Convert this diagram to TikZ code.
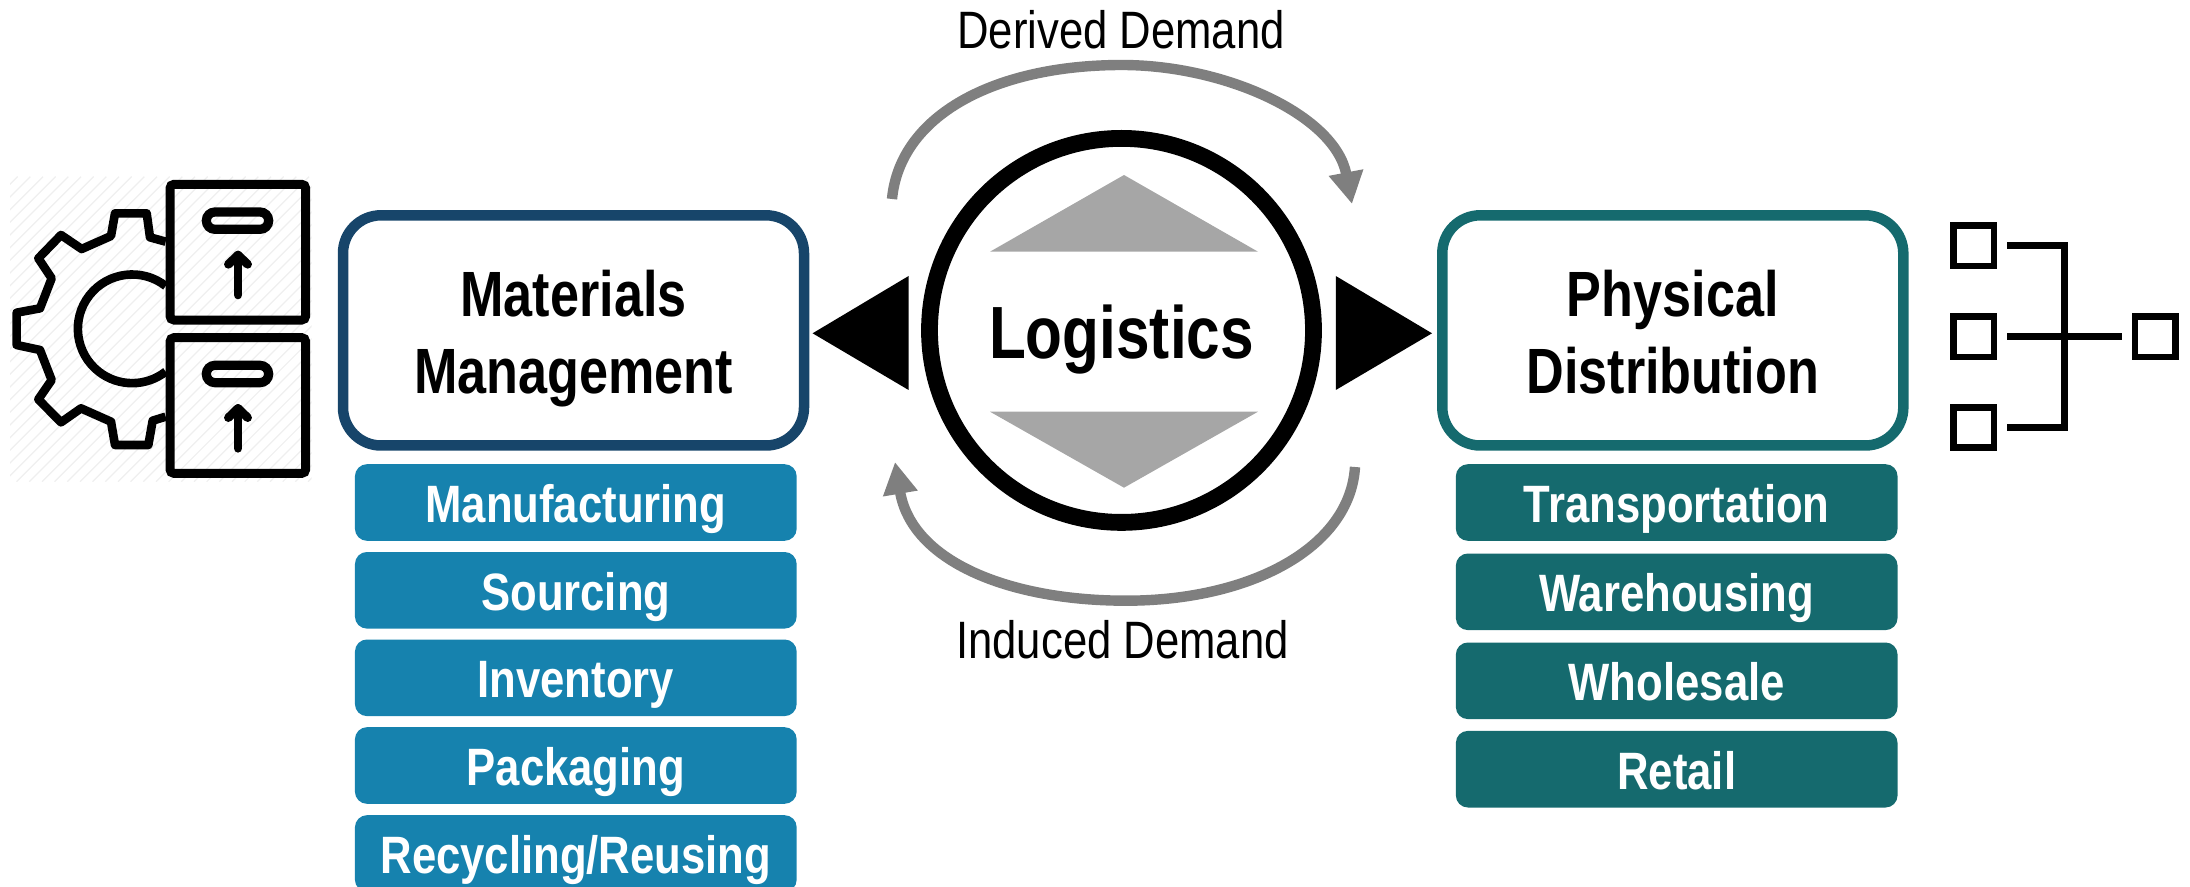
\documentclass[tikz,border=0pt]{standalone}
\usepackage{fontspec}
\usetikzlibrary{arrows.meta}
\newfontfamily\boldlbl[FakeStretch=0.815]{Liberation Sans}
\newfontfamily\sublbl[FakeStretch=0.83]{Liberation Sans}
\newfontfamily\plainlbl[FakeStretch=0.83]{Liberation Sans}
\definecolor{navy}{HTML}{17456A}
\definecolor{tealdark}{HTML}{156A6E}
\definecolor{bluesub}{HTML}{1682AE}
\definecolor{arcgray}{HTML}{7F7F7F}
\definecolor{trigray}{HTML}{A6A6A6}
\definecolor{hatch}{HTML}{EFEFEF}
\tikzset{
  bigbox/.style={draw,line width=5.25pt,rounded corners=19pt,minimum width=230.5pt,minimum height=115.1pt,inner sep=0pt,
     font=\boldlbl\bfseries\fontsize{32}{38.3}\selectfont},
  subbox/.style={rounded corners=6pt,minimum width=220.85pt,minimum height=38.3pt,inner sep=0pt,text=white,
     text height=20pt,text depth=0pt,font=\sublbl\bfseries\fontsize{26.3}{30}\selectfont},
  blue sub/.style={subbox,fill=bluesub},
  teal sub/.style={subbox,fill=tealdark},
  demand/.style={anchor=base,inner sep=0pt,font=\plainlbl\fontsize{26.3}{30}\selectfont},
  demandarc/.style={draw=arcgray,line width=5.2pt,-{Triangle[length=16pt,width=16.5pt,fill=arcgray]}},
  iconline/.style={line width=4.3pt,line join=round,line cap=round},
  treeline/.style={line width=3.33pt,line join=miter},
}
\newcommand{\twolines}[2]{\begin{tabular}{@{}c@{}}\rule{0pt}{36.1pt}#1\\#2\end{tabular}}
\begin{document}
\begin{tikzpicture}[x=0.5pt,y=-0.5pt]
\path[use as bounding box,clip] (0,0) rectangle (2190,887);
% left icon (coordinates in 3x crop units)
\begin{scope}[x=0.166667pt,y=-0.166667pt,shift={(0pt,-80pt)}]
  \begin{scope}
    \clip (30,50) rectangle (935,965);
    \foreach \k in {-900,-862,...,950}
      \draw[hatch,line width=0.6pt] (\k,965) -- (\k+915,50);
  \end{scope}
  \draw[iconline,line cap=butt] (497,245) -- (450,232) -- (440,160) -- (345,160) -- (333,228) -- (245,267)
     -- (183,225) -- (115,295) -- (155,355) -- (120,445) -- (50,458) -- (50,555) -- (120,570) -- (155,660)
     -- (115,718) -- (183,787) -- (243,745) -- (333,785) -- (345,855) -- (445,855) -- (458,782) -- (497,770);
  \draw[iconline,line cap=butt] (497,378) arc[start angle=-52,end angle=-308,radius=163];
  \foreach \dy in {0,460} {
    \draw[line width=4.5pt,rounded corners=2pt] (510,73+\dy) rectangle (917,480+\dy);
    \draw[line width=4.6pt,rounded corners=4.3pt] (619,156+\dy) rectangle (806,208+\dy);
    \draw[iconline] (714,405+\dy) -- (714,285+\dy);
    \draw[iconline] (685,313+\dy) -- (714,285+\dy) -- (743,313+\dy);
  }
\end{scope}
% centre
\fill[trigray] (990,251.7) -- (1124,175) -- (1258,251.7) -- cycle;
\fill[trigray] (990,411.7) -- (1124,487.7) -- (1258,411.7) -- cycle;
\node[circle,draw,line width=8.4pt,minimum size=192pt,inner sep=0pt,text height=28.6pt,text depth=0pt,
      font=\boldlbl\bfseries\fontsize{37}{40}\selectfont] (logi) at (1121.5,330.4) {Logistics};
\fill (812.6,333.3) -- (908.6,276) -- (908.6,390) -- cycle;
\fill (1432,333.3) -- (1335.8,276) -- (1335.8,390) -- cycle;
% main boxes
\node[bigbox,navy,text=black] (mm) at (573.5,330.4) {\twolines{Materials}{Management}};
\node[bigbox,tealdark,text=black] (pd) at (1672.8,330.4) {\twolines{Physical}{Distribution}};
% sub boxes
\node[blue sub] (s1) at (575.8,502.5) {Manufacturing};
\node[blue sub] (s2) at (575.8,590.3) {Sourcing};
\node[blue sub] (s3) at (575.8,677.8) {Inventory};
\node[blue sub] (s4) at (575.8,765.5) {Packaging};
\node[blue sub] (s5) at (575.8,853.5) {Recycling/Reusing};
\node[teal sub] (t1) at (1676.7,502.5) {Transportation};
\node[teal sub] (t2) at (1676.7,591.8) {Warehousing};
\node[teal sub] (t3) at (1676.7,680.8) {Wholesale};
\node[teal sub] (t4) at (1676.7,769.2) {Retail};
% demand arcs
\node[demand] (dd) at (1121,48.3) {Derived Demand};
\node[demand] (id) at (1122.5,658.3) {Induced Demand};
\coordinate (a1) at (892,199);
\coordinate (a2) at (1122,65);
\coordinate (a3) at (1352,204);
\coordinate (b1) at (1355,467);
\coordinate (b2) at (1126,600.7);
\coordinate (b3) at (895,462);
\draw[demandarc] (a1) .. controls (900,115) and (995,65) .. (a2) .. controls (1225,65) and (1335,115) .. (a3);
\draw[demandarc] (b1) .. controls (1350,548) and (1250,600.7) .. (b2) .. controls (1010,600.7) and (912,562) .. (b3);
% right icon (coordinates in 3x crop units)
\begin{scope}[x=0.166667pt,y=-0.166667pt,shift={(950pt,-95pt)}]
  \foreach \a/\b in {160/107,160/380,160/652,705/380}
    \draw[treeline] (\a,\b) rectangle (\a+122,\b+121);
  \draw[treeline] (322,167) -- (494,167) -- (494,712) -- (322,712);
  \draw[treeline] (322,440) -- (665,440);
\end{scope}
\end{tikzpicture}
\end{document}
